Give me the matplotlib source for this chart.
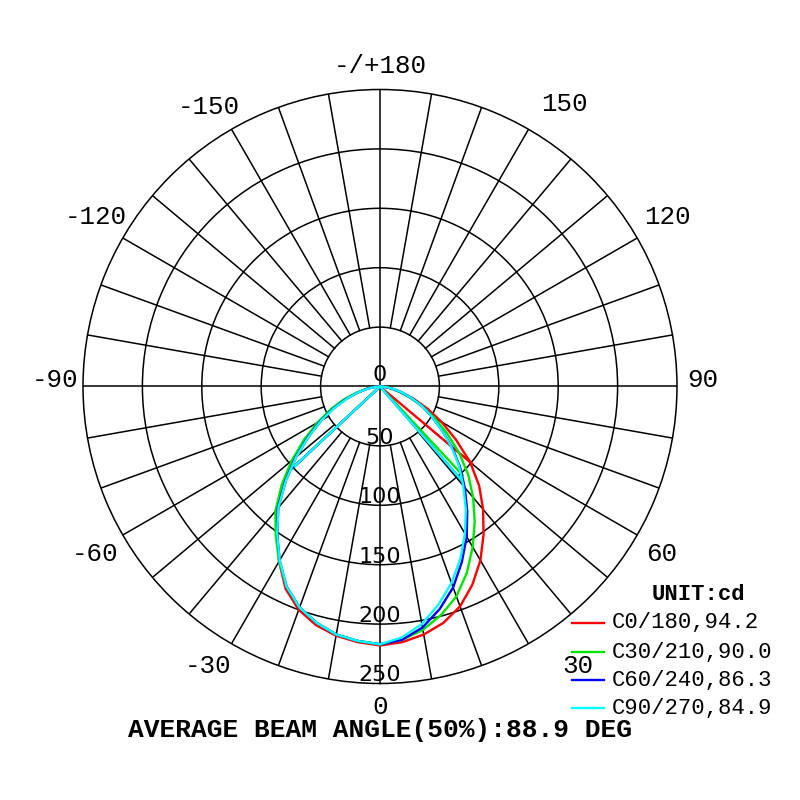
import numpy as np
import matplotlib
matplotlib.use("Agg")
import matplotlib.pyplot as plt
from matplotlib.lines import Line2D

# gamma angles (deg) and luminous intensity (cd) for each C-plane half
gamma = [0, 5, 10, 15, 20, 25, 30, 35, 40, 45, 50, 55, 60, 65, 70, 75, 80, 85, 90]

c0 = [218, 216, 212, 206, 197, 184, 169, 152, 135, 118, 99, 78, 60, 44, 30, 19, 11, 5, 0]
c30 = [217, 214, 208, 199, 188, 173, 156, 139, 122, 105, 87, 69, 53, 39, 26, 16, 9, 4, 0]
c60 = [217, 214, 206, 194, 180, 163, 146, 128, 111, 95, 79, 63, 50, 39, 28, 18, 10, 4, 0]
c90 = [217, 212, 203, 190, 176, 160, 143, 126, 109, 94, 78, 63, 50, 39, 28, 19, 11, 5, 0]

c180 = [218, 216, 213, 208, 200, 188, 170, 151, 133, 112, 92, 73, 57, 43, 30, 19, 11, 5, 0]
c210 = [217, 215, 212, 206, 198, 186, 170, 153, 137, 117, 97, 78, 61, 46, 33, 21, 12, 5, 0]
c240 = [217, 215, 212, 206, 198, 186, 169, 151, 134, 113, 93, 74, 58, 43, 30, 19, 11, 5, 0]
c270 = [217, 215, 212, 206, 198, 186, 169, 151, 133, 112, 92, 73, 57, 42, 29, 19, 10, 4, 0]

# end points of the radial closing strokes (gamma, cd)
spike_right = [(50, 101), (43, 102), (41, 105), (41, 104)]
spike_left = [(47, 100), (47, 102), (47, 100), (47, 98)]

labels = ["C0/180,94.2", "C30/210,90.0", "C60/240,86.3", "C90/270,84.9"]
colors = ["#ff0000", "#00e600", "#0000ff", "#00ffff"]

ring_values = [50, 100, 150, 200, 250]
angle_labels = ["0", "30", "60", "90", "120", "150", "-/+180",
                "-150", "-120", "-90", "-60", "-30"]
# label placement (theta deg, radius in cd units)
angle_label_pos = [(0, 270), (35.3, 288), (59.3, 276), (91.1, 272), (120.6, 281),
                   (146.8, 284), (180, 270), (-148.5, 276), (-120.8, 279),
                   (-91.1, 274), (-59.5, 278), (-31.6, 276)]

MONO = "Liberation Mono"

fig = plt.figure(figsize=(8, 8), dpi=100)
ax = fig.add_axes([0.10375, 0.14563, 0.7425, 0.7425], projection="polar")
ax.set_theta_zero_location("S")
ax.set_theta_direction(1)
ax.set_ylim(0, 250)
ax.set_xticks([])
ax.set_yticks(ring_values[:-1])
ax.set_yticklabels([])
ax.yaxis.grid(True, color="black", linewidth=1.1)
ax.xaxis.grid(False)
ax.spines["polar"].set_color("black")
ax.spines["polar"].set_linewidth(1.1)

# spokes every 10 deg from the inner ring, axes lines through the centre
for a in range(0, 360, 10):
    r0 = 0 if a % 90 == 0 else ring_values[0]
    ax.plot([np.radians(a)] * 2, [r0, 250], color="black", lw=1.1, zorder=1)

rights = [c0, c30, c60, c90]
lefts = [c180, c210, c240, c270]
g = np.radians(gamma)
for i in range(4):
    th_r = g[::-1]
    r_r = rights[i][::-1]
    th_l = -g[1:]
    r_l = lefts[i][1:]
    sr, sl = spike_right[i], spike_left[i]
    theta = np.concatenate([[np.radians(sr[0]), np.radians(sr[0])], th_r, th_l,
                            [-np.radians(sl[0])]])
    rad = np.concatenate([[sr[1], 0], r_r, r_l, [sl[1]]])
    ax.plot(theta, rad, color=colors[i], lw=1.7, zorder=3)

# radial value labels
ax.annotate("0", xy=(0, 0), xytext=(0, 11), textcoords="offset pixels",
            ha="center", va="center", fontsize=16, zorder=4)
for v in ring_values:
    ax.annotate(str(v), xy=(0, v), xytext=(0, 8), textcoords="offset pixels",
                ha="center", va="center", fontsize=16, zorder=4)

# angle labels
for txt, (t, r) in zip(angle_labels, angle_label_pos):
    ax.text(np.radians(t), r, txt, ha="center", va="center", fontsize=18.6,
            family=MONO, clip_on=False)

# legend
fig.text(698 / 800, 1 - 594 / 800, "UNIT:cd", ha="center", va="center",
         fontsize=16, family=MONO, fontweight="bold")
row_y = [623, 652, 680, 708]
for i in range(4):
    y = 1 - row_y[i] / 800
    fig.add_artist(Line2D([572 / 800, 604 / 800], [y, y], color=colors[i], lw=1.7))
    fig.text(612 / 800, y, labels[i], ha="left", va="center", fontsize=16, family=MONO)

fig.text(128 / 800, 1 - 730 / 800, "AVERAGE BEAM ANGLE(50%):88.9 DEG", ha="left",
         va="center", fontsize=18.9, family=MONO, fontweight="bold")

fig.savefig("out.png", dpi=100)
